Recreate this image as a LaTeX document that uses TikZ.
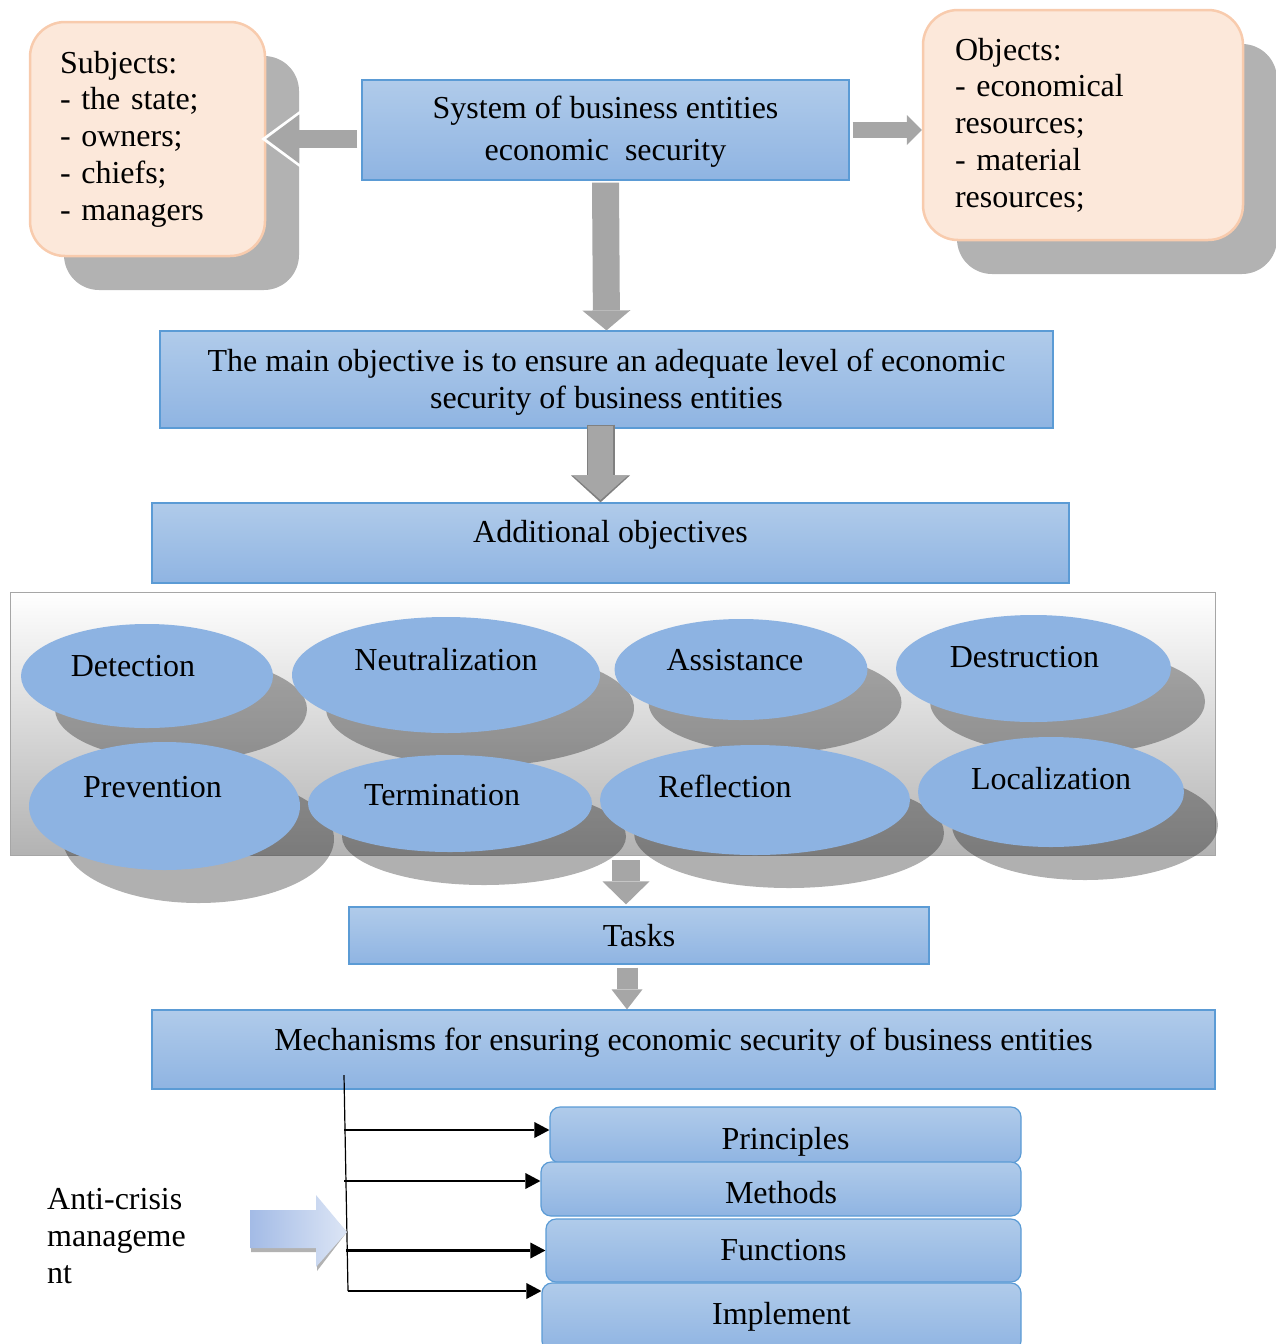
\documentclass[tikz,border=0pt]{standalone}
\usepackage{fontspec}
\setmainfont{Liberation Serif}
\usetikzlibrary{calc}
\usetikzlibrary{positioning}
\usetikzlibrary{shapes.geometric}
\usetikzlibrary{shadows}
\usetikzlibrary{arrows.meta}

\definecolor{boxtop}{HTML}{B0CBEA}
\definecolor{boxbot}{HTML}{8FB4E2}
\definecolor{boxline}{HTML}{5B9BD5}
\definecolor{peach}{HTML}{FCE8DA}
\definecolor{peachline}{HTML}{F8CBAD}
\definecolor{ovalfill}{HTML}{8DB3E2}
\definecolor{arrowgray}{HTML}{A6A6A6}
\definecolor{crisisA}{HTML}{A3BBE6}
\definecolor{crisisB}{HTML}{DCE5F5}

\begin{document}
\begin{tikzpicture}[x=1pt,y=-1pt,
	every node/.style={font=\fontsize{32}{36.7}\selectfont},
	bluebox/.style={draw=boxline,line width=1.2pt,top color=boxtop,bottom color=boxbot,inner sep=0pt,align=center},
	listbox/.style={bluebox,rounded corners=10pt},
	peachbox/.style={draw=peachline,line width=2.5pt,fill=peach,rounded corners=35pt,align=left,inner xsep=30pt,
		drop shadow={shadow xshift=34pt,shadow yshift=-34pt,fill=black!30,opacity=1}},
	oval/.style={ellipse,fill=ovalfill,inner sep=0pt,text height=22pt,
		drop shadow={shadow xshift=34pt,shadow yshift=-33pt,fill=black,opacity=.31}},
	feed/.style={line width=2.5pt,-{Triangle[length=15pt,width=16pt,line width=0pt]}}]
		\useasboundingbox (0,0) rectangle (1276,1344);
		% top row
		\node[peachbox,text width=175pt,minimum height=234pt] (subj) at (147.5,139) {Subjects:\\- the state;\\- owners;\\- chiefs;\\- managers};
		\node[peachbox,text width=256pt,inner xsep=32pt,minimum height=230pt] (obj) at (1083,125) {Objects:\\- economical\\resources;\\- material\\resources;};
		\node[bluebox,minimum width=487pt,minimum height=100pt,text height=68pt,font=\fontsize{32}{42}\selectfont] (sys) at (605.5,130) {System of business entities\\economic\ \ security};
		% objectives
		\node[bluebox,minimum width=893pt,minimum height=97pt,text height=64pt] (mainobj) at (606.5,379.5) {The main objective is to ensure an adequate level of economic\\security of business entities};
		\node[bluebox,minimum width=917pt,minimum height=80pt,text height=22pt,text depth=23pt] (addobj) at (610.5,543) {Additional objectives};
		% panel of ovals
		\node[draw=black!35,top color=white,bottom color=black!30,minimum width=1205pt,minimum height=263pt,inner sep=0pt] (panel) at (612.5,723.5) {};
		\node[oval,minimum width=252pt,minimum height=104pt,text depth=21pt] (detect) at (147,676) {Detection\hspace*{28pt}};
		\node[oval,minimum width=308pt,minimum height=116pt,text depth=31pt] (neutral) at (446,675) {Neutralization};
		\node[oval,minimum width=253pt,minimum height=101pt,text depth=20pt] (assist) at (741,669.5) {Assistance\hspace*{12pt}};
		\node[oval,minimum width=275pt,minimum height=107pt,text depth=24pt] (destruct) at (1033.5,668.5) {Destruction\hspace*{18pt}};
		\node[oval,minimum width=271pt,minimum height=128pt,text depth=39pt] (prevent) at (164.5,806) {Prevention\hspace*{24pt}};
		\node[oval,minimum width=284pt,minimum height=97pt,text depth=18pt] (termin) at (450,803.5) {Termination\hspace*{16pt}};
		\node[oval,minimum width=310pt,minimum height=110pt,text depth=27pt] (reflect) at (755,800) {Reflection\hspace*{60pt}};
		\node[oval,minimum width=266pt,minimum height=110pt,text depth=27pt] (local) at (1051,792) {Localization};
		% tasks and mechanisms
		\node[bluebox,minimum width=580pt,minimum height=57pt] (tasks) at (639,935.5) {Tasks};
		\node[bluebox,minimum width=1063pt,minimum height=79pt,text height=22pt,text depth=21pt] (mech) at (683.5,1049.5) {Mechanisms for ensuring economic security of business entities};
		\node[listbox,minimum width=471pt,minimum height=56pt,text height=36pt,text depth=7pt] (prin) at (785.5,1135) {Principles};
		\node[listbox,minimum width=480pt,minimum height=54pt,text height=36pt,text depth=7pt] (meth) at (781,1189) {Methods};
		\node[listbox,minimum width=475pt,minimum height=63pt] (func) at (783.5,1250.5) {Functions};
		\node[listbox,minimum width=479pt,minimum height=68pt] (impl) at (781.5,1317) {Implement};
		\node[anchor=west,align=left,inner sep=0pt] (crisis) at (47,1236) {Anti-crisis\\manageme\\nt};
		% gray block arrows
		\draw[white,line width=24pt,-{Triangle[width=60pt,length=41pt,line width=0pt]}] (sys.west |- subj.east) -- ($(subj.east)+(-5,0)$);
		\draw[arrowgray,line width=18pt,-{Triangle[width=49pt,length=33pt,line width=0pt]}] ($(sys.west |- subj.east)+(-4,0)$) -- (subj.east);
		\draw[arrowgray,line width=16pt,-{Triangle[width=30pt,length=15pt,line width=0pt]}] ($(sys.east)+(3,0)$) -- (sys.east -| obj.west);
		\draw[arrowgray,line width=27pt,-{Triangle[width=48pt,length=20pt,line width=0pt]}] ($(sys.south)+(0,2)$) -- (mainobj.north);
		\coordinate (a2) at ($(mainobj.south)+(-6,-4)$);
		\draw[black!50,line width=28pt,-{Triangle[width=59pt,length=27pt,line width=0pt]}] (a2) -- (a2 |- addobj.north);
		\draw[arrowgray,line width=25pt,shorten >=2.5pt,-{Triangle[width=54pt,length=24pt,line width=0pt]}] ($(a2)+(0,1.5)$) -- (a2 |- addobj.north);
		\coordinate (a3) at ($(tasks.north)+(-13,-2)$);
		\draw[arrowgray,line width=28pt,-{Triangle[width=47pt,length=23pt,line width=0pt]}] ($(a3 |- panel.south)+(0,5)$) -- (a3);
		\coordinate (a4) at ($(tasks.south)+(-12,3)$);
		\draw[arrowgray,line width=21pt,-{Triangle[width=31pt,length=20pt,line width=0pt]}] (a4) -- (a4 |- mech.north);
		% feed lines
		\coordinate (vtop) at (344,1075);
		\coordinate (vbot) at (348,1291);
		\draw[line width=1.2pt] (vtop) -- (vbot);
		\draw[feed] ([yshift=5pt]prin.west -| vtop) -- ([yshift=5pt]prin.west);
		\draw[feed] ([yshift=8pt]meth.west -| vtop) -- ([yshift=8pt]meth.west);
		\draw[feed] ($(func.west -| vtop)+(2,0)$) -- (func.west);
		\draw[feed] (vbot) -- (vbot -| impl.west);
		% anti-crisis arrow
		\coordinate (ctip) at ($(vtop)!0.727!(vbot)$);
		\fill[black!30,shift={(1,4)}] (250,1210) -- (316,1210) -- (316,1195) -- (ctip) -- (316,1267) -- (316,1248) -- (250,1248) -- cycle;
		\shade[left color=crisisA,right color=crisisB] (250,1210) -- (316,1210) -- (316,1195) -- (ctip) -- (316,1267) -- (316,1248) -- (250,1248) -- cycle;
\end{tikzpicture}
\end{document}
